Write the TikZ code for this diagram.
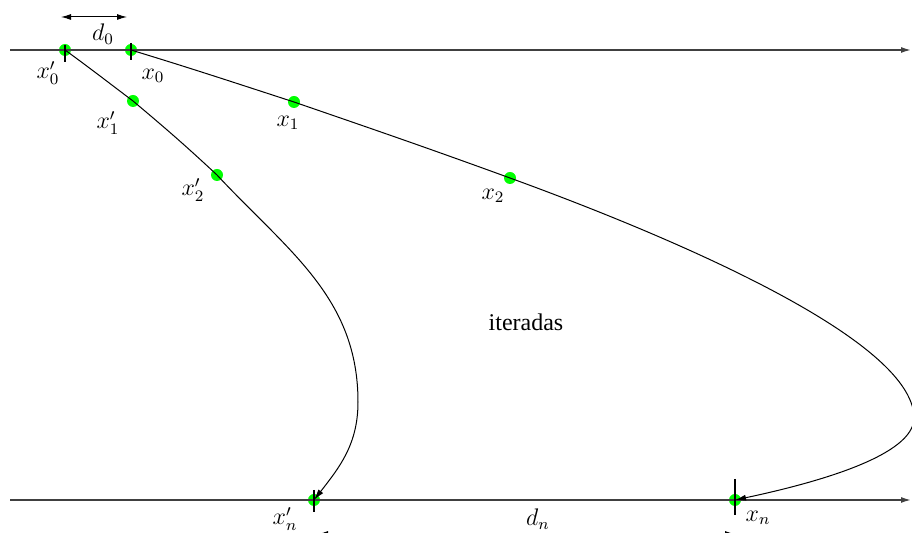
\documentclass[tikz,border=0pt]{standalone}
\usepackage[no-math]{fontspec}
\newfontfamily\textserif{Liberation Serif}
\usetikzlibrary{arrows.meta}

\begin{document}
\begin{tikzpicture}[
    x=0.5pt, y=0.5pt,
    font=\fontsize{12}{14}\selectfont,
    axis/.style={-{Latex[length=5pt,width=3pt]}, line width=0.75pt, black!75},
    orbit/.style={-{Latex[length=5.5pt,width=3pt]}, line width=0.5pt},
    gap/.style={{Latex[length=5pt,width=3pt]}-{Latex[length=5pt,width=3pt]}, line width=0.5pt},
    tick/.style={line width=0.6pt},
    pt/.style={circle, fill=green, inner sep=0pt, minimum size=6pt}
]
\useasboundingbox (0,0) rectangle (912,-533);
\clip (0,0) rectangle (912,-533);

% Points of the two orbits
\node[pt] (a0) at (65,-50) {};
\node[pt] (a1) at (133,-101) {};
\node[pt] (a2) at (217,-175) {};
\node[pt] (an) at (314,-500) {};
\node[pt] (b0) at (131,-50) {};
\node[pt] (b1) at (294,-102) {};
\node[pt] (b2) at (510,-178) {};
\node[pt] (bn) at (735,-500) {};

% Axes
\coordinate (topw) at (10,-50);
\coordinate (tope) at (911,-50);
\coordinate (botw) at (10,-500);
\coordinate (bote) at (911,-500);
\draw[axis] (topw) -- (tope);
\draw[axis] (botw) -- (bote);

% Ticks
\draw[tick] ([yshift=2.5pt]a0.center) -- ([yshift=-6pt]a0.center);
\draw[tick] ([yshift=3.5pt]b0.center) -- ([yshift=-5pt]b0.center);
\draw[tick] ([yshift=5pt]an.center) -- ([yshift=-6pt]an.center);
\draw[tick] ([yshift=10.5pt]bn.center) -- ([yshift=-7.5pt]bn.center);

% Distances
\coordinate (d0w) at (61,-17);
\coordinate (d0e) at (127,-17);
\coordinate (dnw) at (318,-534);
\coordinate (dne) at (735,-534);
\draw[gap] (d0w) -- (d0e);
\draw[gap] (dnw) -- (dne);

% Orbits
\coordinate (aturn) at (358,-402);
\coordinate (bturn) at (914,-418);
\draw[orbit] (a0.center) to[out=-36,in=143] (a1.center) to[out=-40,in=137] (a2.center)
    to[out=-47,in=90] (aturn) to[out=-90,in=52] (an.center);
\draw[orbit] (b0.center) to[out=-17,in=162] (b1.center) to[out=-19,in=160] (b2.center)
    .. controls +(-20:149) and +(0,82) .. (bturn)
    .. controls +(0,-37) and +(85,18) .. (bn.center);

% Labels
\node (ld0) at (103,-34) {$d_0$};
\node (la0) at (48,-73) {$x'_0$};
\node (lb0) at (153,-76) {$x_0$};
\node (la1) at (108,-123) {$x'_1$};
\node (lb1) at (288,-123) {$x_1$};
\node (la2) at (193,-190) {$x'_2$};
\node (lb2) at (493,-196) {$x_2$};
\node (lan) at (285,-519) {$x'_n$};
\node (lbn) at (758,-518) {$x_n$};
\node (ldn) at (538,-519) {$d_n$};
\node (lit) at (526,-322) {\textserif iteradas};

\end{tikzpicture}
\end{document}
